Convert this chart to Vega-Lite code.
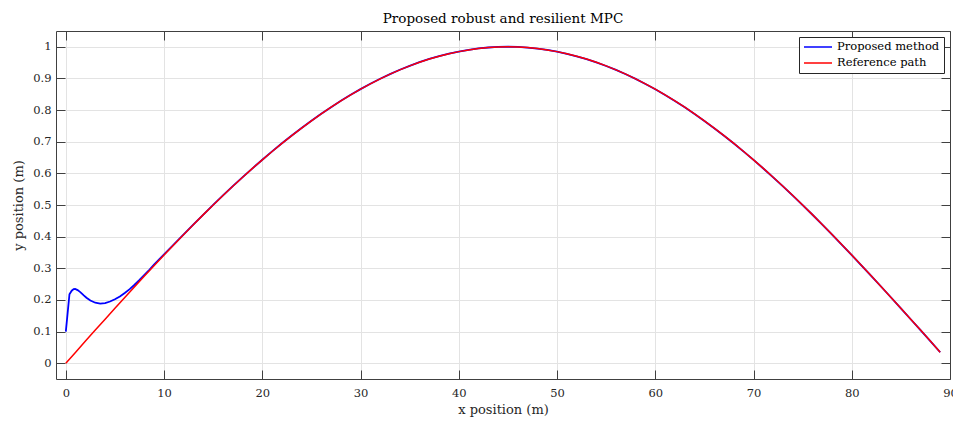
{
  "$schema": "https://vega.github.io/schema/vega-lite/v6.json",
  "autosize": "none",
  "width": 894,
  "height": 348,
  "padding": {"left": 56, "top": 31, "right": 3, "bottom": 43},
  "background": "white",
  "title": {"text": "Proposed robust and resilient MPC", "font": "DejaVu Serif", "fontSize": 13.5, "fontWeight": "normal", "color": "#000000", "offset": 5},
  "config": {
    "view": {"stroke": null},
    "axis": {"labelFont": "DejaVu Serif", "titleFont": "DejaVu Serif", "labelFontSize": 11.5, "titleFontSize": 13, "titleFontWeight": "normal", "labelColor": "#262626", "titleColor": "#262626", "domainColor": "#404040", "tickColor": "#404040", "gridColor": "#e3e3e3", "domainWidth": 1, "tickWidth": 1}
  },
  "datasets": {
    "proposed": [
      {"x": 0, "y": 0.1}, {"x": 0.37, "y": 0.218}, {"x": 0.6, "y": 0.229}, {"x": 0.8, "y": 0.234}, {"x": 0.95, "y": 0.235},
      {"x": 1.2, "y": 0.231}, {"x": 1.5, "y": 0.224}, {"x": 1.8, "y": 0.215}, {"x": 2.1, "y": 0.207}, {"x": 2.5, "y": 0.198},
      {"x": 3, "y": 0.191}, {"x": 3.5, "y": 0.188}, {"x": 4, "y": 0.19}, {"x": 4.5, "y": 0.195},
      {"x": 5, "y": 0.202}, {"x": 5.5, "y": 0.211}, {"x": 6, "y": 0.222}, {"x": 6.5, "y": 0.234},
      {"x": 7, "y": 0.248}, {"x": 7.5, "y": 0.263}, {"x": 8, "y": 0.279}, {"x": 8.5, "y": 0.295},
      {"x": 9, "y": 0.312}, {"x": 9.5, "y": 0.328}, {"x": 10, "y": 0.344}, {"x": 11, "y": 0.3755},
      {"x": 12, "y": 0.4072}, {"x": 13, "y": 0.4388}, {"x": 14, "y": 0.4698}, {"x": 15, "y": 0.5003},
      {"x": 16, "y": 0.5302}, {"x": 17, "y": 0.5595}, {"x": 18, "y": 0.5881}, {"x": 19, "y": 0.616},
      {"x": 20, "y": 0.6431}, {"x": 21, "y": 0.6694}, {"x": 22, "y": 0.695}, {"x": 23, "y": 0.7196},
      {"x": 24, "y": 0.7434}, {"x": 25, "y": 0.7663}, {"x": 26, "y": 0.7883}, {"x": 27, "y": 0.8093},
      {"x": 28, "y": 0.8293}, {"x": 29, "y": 0.8483}, {"x": 30, "y": 0.8663}, {"x": 31, "y": 0.8832},
      {"x": 32, "y": 0.8991}, {"x": 33, "y": 0.9138}, {"x": 34, "y": 0.9275}, {"x": 35, "y": 0.94},
      {"x": 36, "y": 0.9514}, {"x": 37, "y": 0.9616}, {"x": 38, "y": 0.9706}, {"x": 39, "y": 0.9784},
      {"x": 40, "y": 0.9851}, {"x": 41, "y": 0.9906}, {"x": 42, "y": 0.9948}, {"x": 43, "y": 0.9979},
      {"x": 44, "y": 0.9997}, {"x": 45, "y": 1.0003}, {"x": 46, "y": 0.9996}, {"x": 47, "y": 0.9977},
      {"x": 48, "y": 0.9945}, {"x": 49, "y": 0.9902}, {"x": 50, "y": 0.9846}, {"x": 51, "y": 0.9779},
      {"x": 52, "y": 0.97}, {"x": 53, "y": 0.961}, {"x": 54, "y": 0.9508}, {"x": 55, "y": 0.9394},
      {"x": 56, "y": 0.9269}, {"x": 57, "y": 0.9132}, {"x": 58, "y": 0.8985}, {"x": 59, "y": 0.8826},
      {"x": 60, "y": 0.8657}, {"x": 61, "y": 0.8477}, {"x": 62, "y": 0.8287}, {"x": 63, "y": 0.8087},
      {"x": 64, "y": 0.7877}, {"x": 65, "y": 0.7657}, {"x": 66, "y": 0.7428}, {"x": 67, "y": 0.719},
      {"x": 68, "y": 0.6944}, {"x": 69, "y": 0.6688}, {"x": 70, "y": 0.6425}, {"x": 71, "y": 0.6154},
      {"x": 72, "y": 0.5875}, {"x": 73, "y": 0.5589}, {"x": 74, "y": 0.5296}, {"x": 75, "y": 0.4997},
      {"x": 76, "y": 0.4692}, {"x": 77, "y": 0.4381}, {"x": 78, "y": 0.4064}, {"x": 79, "y": 0.3743},
      {"x": 80, "y": 0.3417}, {"x": 81, "y": 0.3087}, {"x": 82, "y": 0.2753}, {"x": 83, "y": 0.2416},
      {"x": 84, "y": 0.2076}, {"x": 85, "y": 0.1733}, {"x": 86, "y": 0.1389}, {"x": 87, "y": 0.1042},
      {"x": 88, "y": 0.0695}, {"x": 89, "y": 0.0346}
    ],
    "reference": [
      {"x": 0, "y": 0}, {"x": 1, "y": 0.0349}, {"x": 2, "y": 0.0698}, {"x": 3, "y": 0.1045},
      {"x": 4, "y": 0.1392}, {"x": 5, "y": 0.1736}, {"x": 6, "y": 0.2079}, {"x": 7, "y": 0.2419},
      {"x": 8, "y": 0.2756}, {"x": 9, "y": 0.309}, {"x": 10, "y": 0.342}, {"x": 11, "y": 0.3746},
      {"x": 12, "y": 0.4067}, {"x": 13, "y": 0.4384}, {"x": 14, "y": 0.4695}, {"x": 15, "y": 0.5},
      {"x": 16, "y": 0.5299}, {"x": 17, "y": 0.5592}, {"x": 18, "y": 0.5878}, {"x": 19, "y": 0.6157},
      {"x": 20, "y": 0.6428}, {"x": 21, "y": 0.6691}, {"x": 22, "y": 0.6947}, {"x": 23, "y": 0.7193},
      {"x": 24, "y": 0.7431}, {"x": 25, "y": 0.766}, {"x": 26, "y": 0.788}, {"x": 27, "y": 0.809},
      {"x": 28, "y": 0.829}, {"x": 29, "y": 0.848}, {"x": 30, "y": 0.866}, {"x": 31, "y": 0.8829},
      {"x": 32, "y": 0.8988}, {"x": 33, "y": 0.9135}, {"x": 34, "y": 0.9272}, {"x": 35, "y": 0.9397},
      {"x": 36, "y": 0.9511}, {"x": 37, "y": 0.9613}, {"x": 38, "y": 0.9703}, {"x": 39, "y": 0.9781},
      {"x": 40, "y": 0.9848}, {"x": 41, "y": 0.9903}, {"x": 42, "y": 0.9945}, {"x": 43, "y": 0.9976},
      {"x": 44, "y": 0.9994}, {"x": 45, "y": 1}, {"x": 46, "y": 0.9994}, {"x": 47, "y": 0.9976},
      {"x": 48, "y": 0.9945}, {"x": 49, "y": 0.9903}, {"x": 50, "y": 0.9848}, {"x": 51, "y": 0.9781},
      {"x": 52, "y": 0.9703}, {"x": 53, "y": 0.9613}, {"x": 54, "y": 0.9511}, {"x": 55, "y": 0.9397},
      {"x": 56, "y": 0.9272}, {"x": 57, "y": 0.9135}, {"x": 58, "y": 0.8988}, {"x": 59, "y": 0.8829},
      {"x": 60, "y": 0.866}, {"x": 61, "y": 0.848}, {"x": 62, "y": 0.829}, {"x": 63, "y": 0.809},
      {"x": 64, "y": 0.788}, {"x": 65, "y": 0.766}, {"x": 66, "y": 0.7431}, {"x": 67, "y": 0.7193},
      {"x": 68, "y": 0.6947}, {"x": 69, "y": 0.6691}, {"x": 70, "y": 0.6428}, {"x": 71, "y": 0.6157},
      {"x": 72, "y": 0.5878}, {"x": 73, "y": 0.5592}, {"x": 74, "y": 0.5299}, {"x": 75, "y": 0.5},
      {"x": 76, "y": 0.4695}, {"x": 77, "y": 0.4384}, {"x": 78, "y": 0.4067}, {"x": 79, "y": 0.3746},
      {"x": 80, "y": 0.342}, {"x": 81, "y": 0.309}, {"x": 82, "y": 0.2756}, {"x": 83, "y": 0.2419},
      {"x": 84, "y": 0.2079}, {"x": 85, "y": 0.1736}, {"x": 86, "y": 0.1392}, {"x": 87, "y": 0.1045},
      {"x": 88, "y": 0.0698}, {"x": 89, "y": 0.0349}
    ]
  },
  "resolve": {"axis": {"x": "independent", "y": "independent"}},
  "layer": [
    {
      "data": {"name": "proposed"},
      "mark": {"type": "line", "strokeWidth": 1.8},
      "encoding": {
        "x": {"field": "x", "type": "quantitative", "scale": {"domain": [-1, 90], "nice": false, "zero": false},
          "axis": {"title": "x position (m)", "values": [0,10,20,30,40,50,60,70,80,90], "grid": true, "tickSize": -9, "labelPadding": 17, "titlePadding": 5, "labelFlush": false}},
        "y": {"field": "y", "type": "quantitative", "scale": {"domain": [-0.05, 1.05], "nice": false, "zero": false},
          "axis": {"title": "y position (m)", "values": [0,0.1,0.2,0.3,0.4,0.5,0.6,0.7,0.8,0.9,1], "format": "~g", "grid": true, "tickSize": -9, "labelPadding": 14, "titlePadding": 7}},
        "color": {"datum": "Proposed method", "type": "nominal",
          "scale": {"domain": ["Proposed method", "Reference path"], "range": ["#0000ff", "#ff0000"]},
          "legend": {"title": null, "orient": "top-right", "offset": 6, "strokeColor": "#262626", "fillColor": "white", "padding": 4, "symbolType": "M-2.8,0H2.8", "symbolSize": 100, "symbolOffset": 9, "symbolStrokeWidth": 1.5, "labelFont": "DejaVu Serif", "labelFontSize": 11.5, "labelColor": "#000000", "rowPadding": 4, "labelOffset": 13}}
      }
    },
    {
      "data": {"name": "reference"},
      "mark": {"type": "line", "strokeWidth": 1.5},
      "encoding": {
        "x": {"field": "x", "type": "quantitative", "axis": {"orient": "top", "title": null, "labels": false, "grid": false, "values": [0,10,20,30,40,50,60,70,80,90], "tickSize": -9}},
        "y": {"field": "y", "type": "quantitative", "axis": {"orient": "right", "title": null, "labels": false, "grid": false, "values": [0,0.1,0.2,0.3,0.4,0.5,0.6,0.7,0.8,0.9,1], "tickSize": -9}},
        "color": {"datum": "Reference path", "type": "nominal"}
      }
    }
  ]
}
